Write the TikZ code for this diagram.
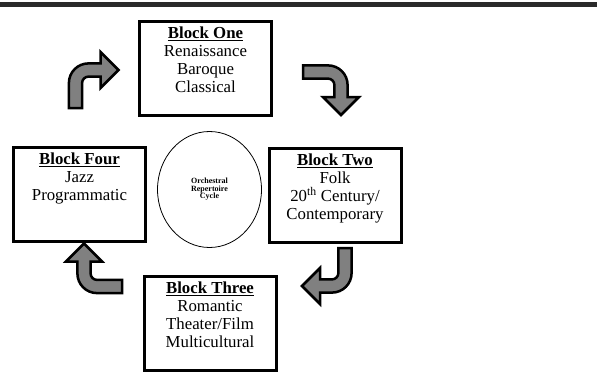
\documentclass[tikz,border=0pt]{standalone}
\usepackage{fontspec}
\setmainfont{Liberation Serif}
\usetikzlibrary{positioning,shapes.geometric}

\definecolor{bargray}{HTML}{2A2A2A}
\definecolor{arrowgray}{HTML}{808080}

% bent block arrow, shaft from the origin upwards, turning right
\newcommand{\bentarrow}[2]{%
	\begin{scope}[shift={#1}, rotate=#2]
		\draw[bent] (-6.6,0) -- (-6.6,25) arc[start angle=180, end angle=90, radius=19.6]
			-- (25,44.6) -- (25,56) -- (43,38) -- (25,20) -- (25,31.4) -- (13,31.4)
			arc[start angle=90, end angle=180, radius=6.4] -- (6.6,0) -- cycle;
	\end{scope}}

\begin{document}
\begin{tikzpicture}[x=1pt, y=1pt,
		block/.style={draw, line width=3pt, minimum width=132pt, minimum height=94pt, inner sep=0pt},
		blocktext/.style={inner sep=0pt, align=center, font=\fontsize{16.8}{18}\selectfont},
		bent/.style={fill=arrowgray, draw=black, line width=2.5pt, line join=miter},
		core/.style={ellipse, draw, line width=0.8pt, minimum width=104pt, minimum height=116pt, inner sep=0pt,
			align=center, font=\fontsize{8}{7.5}\selectfont\bfseries}]
		\useasboundingbox (0,0) rectangle (597,-375);
		\fill[bargray] (0,-1.5) rectangle (597,-6.5);

		\node[block] (one) at (205.5,-68) {};
		\node[block] (two) at (335,-195.5) {};
		\node[block] (three) at (210,-323) {};
		\node[block] (four) at (79.5,-194.5) {};
		\node[core] (rep) at (209.5,-189.5) {Orchestral\\Repertoire\\Cycle};

		\node[blocktext, below=7pt of one.north] (onetext) {\underline{\textbf{Block One}}\\Renaissance\\Baroque\\Classical};
		\node[blocktext, below=7pt of two.north] (twotext) {\underline{\textbf{Block Two}}\\Folk\\20\textsuperscript{th} Century/\\Contemporary};
		\node[blocktext, below=7pt of three.north] (threetext) {\underline{\textbf{Block Three}}\\Romantic\\Theater/Film\\Multicultural};
		\node[blocktext, below=7pt of four.north] (fourtext) {\underline{\textbf{Block Four}}\\Jazz\\Programmatic};

		\bentarrow{(75.5,-108)}{0}
		\bentarrow{(303,-72)}{-90}
		\bentarrow{(345,-248)}{180}
		\bentarrow{(122,-286.5)}{90}
	\end{tikzpicture}
\end{document}
